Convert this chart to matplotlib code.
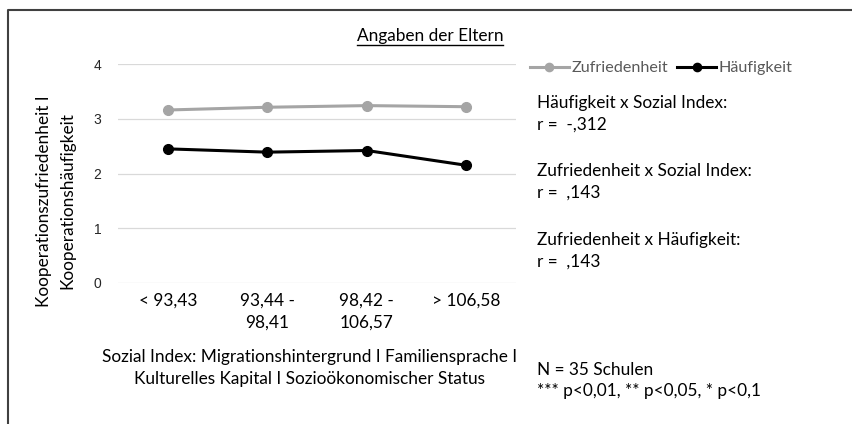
import matplotlib
matplotlib.use("Agg")
import matplotlib.pyplot as plt
from matplotlib.lines import Line2D

# Sozial-Index-Gruppen und Mittelwerte (Angaben der Eltern)
categories = ["< 93,43", "93,44 -\n98,41", "98,42 -\n106,57", "> 106,58"]
zufriedenheit = [3.16, 3.21, 3.24, 3.22]
haeufigkeit = [2.45, 2.39, 2.42, 2.15]
yticks = [0, 1, 2, 3, 4]

W, H = 852, 424
txt_font = ["Lato", "DejaVu Sans"]
num_font = ["Liberation Sans", "DejaVu Sans"]
fs = 12.4

fig = plt.figure(figsize=(W / 100, H / 100), dpi=100)
fig.patch.set_facecolor("white")


def fx(px):
    return px / W


def fy(py):
    return 1 - py / H


# outer frame (only top and left edges fall inside the image)
fig.add_artist(Line2D([fx(8), fx(8), 1.0], [0.0, fy(10), fy(10)],
                      transform=fig.transFigure, color="#404040", lw=1.5))

ax = fig.add_axes([fx(118), fy(283), fx(516) - fx(118), (283 - 64) / H])
x = [i + 0.5 for i in range(len(categories))]
ax.plot(x, zufriedenheit, color="#A5A5A5", lw=2.2, marker="o", ms=7,
        label="Zufriedenheit", zorder=3)
ax.plot(x, haeufigkeit, color="black", lw=2.2, marker="o", ms=7,
        label="Häufigkeit", zorder=3)

ax.set_xlim(0, 4)
ax.set_ylim(0, 4)
ax.set_yticks(yticks)
ax.set_yticklabels([str(v) for v in yticks], family=num_font, fontsize=10,
                   color="#262626")
ax.set_xticks(x)
ax.set_xticklabels(categories, family=txt_font, fontsize=fs, color="black",
                   linespacing=1.45)
ax.tick_params(length=0, pad=12, axis="y")
ax.tick_params(length=0, pad=7, axis="x")
ax.grid(axis="y", color="#D9D9D9", lw=0.9)
ax.set_axisbelow(True)
for s in ax.spines.values():
    s.set_visible(False)

# y-axis title, two lines
fig.text(fx(56), fy(201), "Kooperationszufriedenheit I\nKooperationshäufigkeit",
         rotation=90, ha="center", va="center", family=txt_font, fontsize=fs,
         linespacing=1.58)

# x-axis title
fig.text(fx(310), fy(368), "Sozial Index: Migrationshintergrund I Familiensprache I\n"
         "Kulturelles Kapital I Sozioökonomischer Status",
         ha="center", va="center", family=txt_font, fontsize=fs, linespacing=1.45)

# underlined title
title = fig.text(fx(430), fy(36), "Angaben der Eltern", ha="center", va="center",
                 family=txt_font, fontsize=fs)
fig.canvas.draw()
bb = title.get_window_extent().transformed(fig.transFigure.inverted())
fig.add_artist(Line2D([bb.x0, bb.x1], [bb.y0 - 0.003, bb.y0 - 0.003],
                      transform=fig.transFigure, color="black", lw=1))

leg = fig.legend(loc="center left", bbox_to_anchor=(fx(530), fy(68)), ncol=2,
                 frameon=False, prop={"family": txt_font, "size": 11.6},
                 handlelength=2.4, handletextpad=0.15, columnspacing=0.6,
                 borderpad=0, borderaxespad=0, markerscale=0.85)
for t in leg.get_texts():
    t.set_color("#595959")

notes = [
    (103, "Häufigkeit x Sozial Index:"),
    (125, "r =  -,312"),
    (171, "Zufriedenheit x Sozial Index:"),
    (193, "r =  ,143"),
    (240, "Zufriedenheit x Häufigkeit:"),
    (262, "r =  ,143"),
    (370, "N = 35 Schulen"),
    (391, "*** p<0,01, ** p<0,05, * p<0,1"),
]
for py, s in notes:
    fig.text(fx(537), fy(py), s, ha="left", va="center", family=txt_font,
             fontsize=fs)

fig.savefig("out.png", dpi=100, facecolor="white")
